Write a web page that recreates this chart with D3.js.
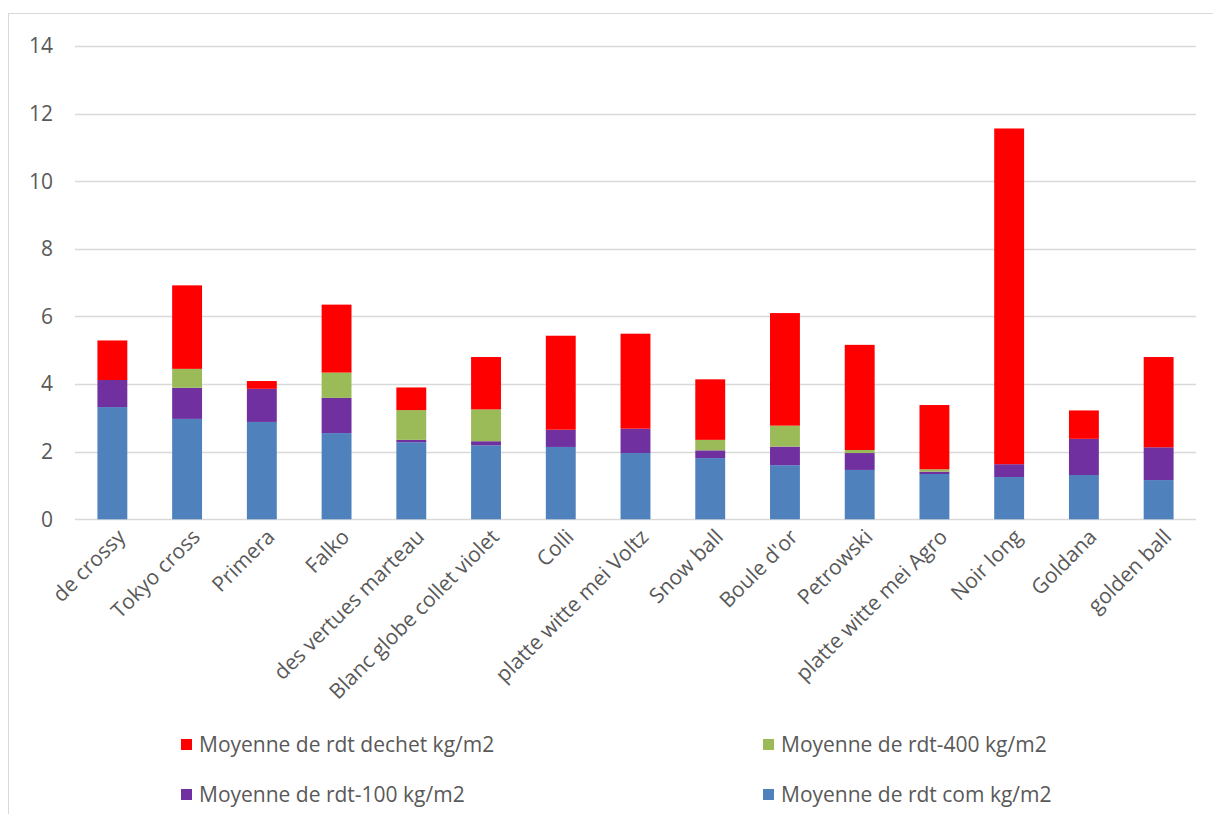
<!DOCTYPE html>
<html>
<head>
<meta charset="utf-8">
<script src="https://cdn.jsdelivr.net/npm/d3@7"></script>
<style>
  body { margin: 0; background: #fff; }
  text { font-family: "Open Sans", sans-serif; fill: #595959; }
</style>
</head>
<body>
<div id="chart"></div>
<script>
var varieties = ["de crossy", "Tokyo cross", "Primera", "Falko", "des vertues marteau",
  "Blanc globe collet violet", "Colli", "platte witte mei Voltz", "Snow ball", "Boule d'or",
  "Petrowski", "platte witte mei Agro", "Noir long", "Goldana", "golden ball"];

var rdtCom    = [3.32, 2.97, 2.88, 2.55, 2.28, 2.19, 2.14, 1.96, 1.81, 1.60, 1.46, 1.34, 1.25, 1.31, 1.16];
var rdt100    = [0.80, 0.92, 0.98, 1.04, 0.07, 0.12, 0.51, 0.72, 0.23, 0.55, 0.50, 0.07, 0.38, 1.07, 0.97];
var rdt400    = [0.00, 0.56, 0.00, 0.75, 0.88, 0.94, 0.00, 0.00, 0.31, 0.62, 0.09, 0.07, 0.00, 0.00, 0.00];
var rdtDechet = [1.17, 2.47, 0.23, 2.01, 0.67, 1.55, 2.78, 2.81, 1.79, 3.33, 3.11, 1.90, 9.93, 0.84, 2.67];

var yTicks = [0, 2, 4, 6, 8, 10, 12, 14];

var seriesKeys = ["com", "r100", "r400", "dechet"];
var seriesNames = {
  com: "Moyenne de rdt com kg/m2",
  r100: "Moyenne de rdt-100 kg/m2",
  r400: "Moyenne de rdt-400 kg/m2",
  dechet: "Moyenne de rdt dechet kg/m2"
};
var colors = { com: "#4f81bd", r100: "#7030a0", r400: "#9bbb59", dechet: "#ff0000" };

var width = 1213,
    height = 814,
    fontSize = "21px";

var rows = varieties.map(function(v, i) {
  return { name: v, com: rdtCom[i], r100: rdt100[i], r400: rdt400[i], dechet: rdtDechet[i] };
});

var svg = d3.select("#chart")
  .append("svg")
  .attr("width", width)
  .attr("height", height);

// chart frame
svg.append("rect")
  .attr("x", 8.5)
  .attr("y", 13.5)
  .attr("width", width + 20)
  .attr("height", height + 20)
  .attr("fill", "none")
  .attr("stroke", "#d9d9d9");

var x = d3.scaleBand()
  .domain(varieties)
  .range([75, 1196])
  .paddingInner(0.6)
  .paddingOuter(0.3);

var y = d3.scaleLinear()
  .domain([0, 14])
  .range([519.3, 46]);

// gridlines
svg.append("g")
  .selectAll("line")
  .data(yTicks)
  .enter().append("line")
  .attr("x1", 75)
  .attr("x2", 1196)
  .attr("y1", function(d) { return Math.round(y(d)) + 0.5; })
  .attr("y2", function(d) { return Math.round(y(d)) + 0.5; })
  .attr("stroke", "#d9d9d9")
  .attr("stroke-width", 1.5);

// y labels
svg.append("g")
  .selectAll("text")
  .data(yTicks)
  .enter().append("text")
  .attr("x", 53)
  .attr("y", function(d) { return y(d); })
  .attr("dy", "0.35em")
  .attr("text-anchor", "end")
  .style("font-size", fontSize)
  .text(function(d) { return d; });

var stack = d3.stack().keys(seriesKeys);
var stacked = stack(rows);

svg.append("g")
  .selectAll("g")
  .data(stacked)
  .enter().append("g")
  .attr("fill", function(d) { return colors[d.key]; })
  .selectAll("rect")
  .data(function(d) { return d; })
  .enter().append("rect")
  .attr("x", function(d) { return x(d.data.name); })
  .attr("width", x.bandwidth())
  .attr("y", function(d) { return y(d[1]); })
  .attr("height", function(d) { return y(d[0]) - y(d[1]); });

// x labels
svg.append("g")
  .selectAll("text")
  .data(varieties)
  .enter().append("text")
  .attr("transform", function(d) {
    return "translate(" + (x(d) + x.bandwidth() / 2 + 9) + ",533) rotate(-45)";
  })
  .attr("dy", "0.35em")
  .attr("text-anchor", "end")
  .style("font-size", fontSize)
  .text(function(d) { return d; });

// legend
var legendItems = [
  { key: "dechet", x: 181, y: 745 },
  { key: "r400", x: 763, y: 745 },
  { key: "r100", x: 181, y: 795 },
  { key: "com", x: 763, y: 795 }
];

var legend = svg.append("g")
  .selectAll("g")
  .data(legendItems)
  .enter().append("g")
  .attr("transform", function(d) { return "translate(" + d.x + "," + d.y + ")"; });

legend.append("rect")
  .attr("x", 0)
  .attr("y", -6)
  .attr("width", 11)
  .attr("height", 11)
  .attr("fill", function(d) { return colors[d.key]; });

legend.append("text")
  .attr("x", 18)
  .attr("y", 0)
  .attr("dy", "0.35em")
  .style("font-size", fontSize)
  .text(function(d) { return seriesNames[d.key]; });
</script>
</body>
</html>
